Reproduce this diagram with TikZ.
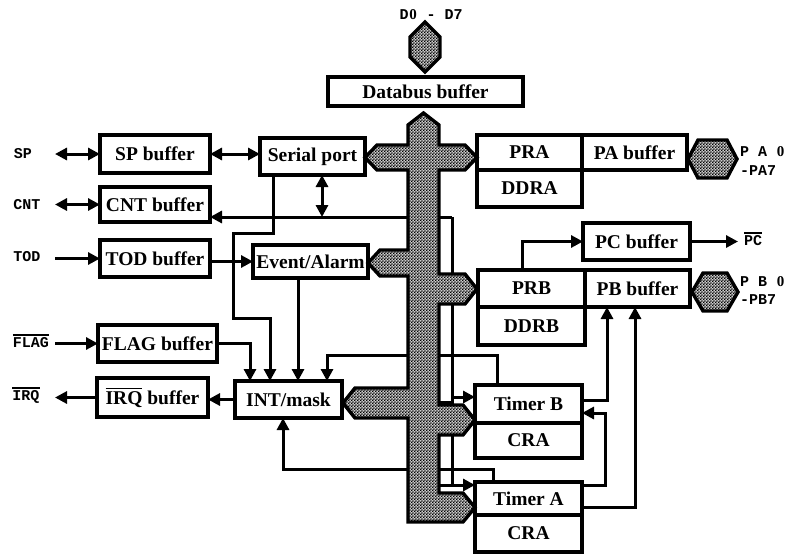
\documentclass[tikz,border=0pt]{standalone}
\usepackage{fontspec}
\setmainfont{Liberation Serif}
\setmonofont{Liberation Mono}
\usetikzlibrary{arrows.meta,patterns,calc}
\pgfdeclarepatternformonly{checker}{\pgfqpoint{0pt}{0pt}}{\pgfqpoint{3.2pt}{3.2pt}}{\pgfqpoint{3.2pt}{3.2pt}}{%
 \pgfpathrectangle{\pgfqpoint{0pt}{0pt}}{\pgfqpoint{1.6pt}{1.6pt}}%
 \pgfpathrectangle{\pgfqpoint{1.6pt}{1.6pt}}{\pgfqpoint{1.6pt}{1.6pt}}%
 \pgfusepath{fill}}
\newcommand\ovl[1]{\leavevmode\vbox{\hrule height 1.8pt\kern 1.8pt\hbox{#1}}}
\newcommand\zr{\makebox[0.6em]{\rmfamily 0}}
\tikzset{
 box/.style={draw, line width=3.4pt, inner sep=0pt, outer sep=0pt, font=\fontsize{19.5}{21}\selectfont\bfseries, fill=white},
 lbl/.style={font=\fontsize{15}{16}\selectfont\ttfamily\bfseries, inner sep=0pt},
 wire/.style={line width=3pt},
 arr/.style={wire, -{Triangle[length=12pt,width=12pt]}},
 darr/.style={wire, {Triangle[length=12pt,width=12pt]}-{Triangle[length=12pt,width=12pt]}},
 bus/.style={draw, line width=3.4pt, preaction={fill=gray!40}, pattern=checker, line join=miter},
}
\begin{document}
\begin{tikzpicture}[x=1pt,y=-1pt]
\useasboundingbox[fill=white] (0,0) rectangle (791,555);

% boxes
\node[box, minimum width=110pt, minimum height=38pt] (spbuf) at (155,154) {SP buffer};
\node[box, minimum width=110pt, minimum height=35pt] (cntbuf) at (155,204.5) {CNT buffer};
\node[box, minimum width=110pt, minimum height=37pt] (todbuf) at (155,258.5) {TOD buffer};
\node[box, minimum width=119pt, minimum height=37pt] (flagbuf) at (157.5,343.5) {FLAG buffer};
\node[box, minimum width=111pt, minimum height=39pt] (irqbuf) at (152.5,397.5) {\ovl{IRQ} buffer};
\node[box, minimum width=105pt, minimum height=37pt] (serial) at (312.5,156.5) {Serial port};
\node[box, minimum width=115pt, minimum height=33pt] (event) at (310.5,261.5) {Event/Alarm};
\node[box, minimum width=107pt, minimum height=37pt] (intm) at (288.5,399.5) {INT/mask};
\node[box, minimum width=195pt, minimum height=29pt] (databus) at (425.5,91.5) {Databus buffer};
\node[box, minimum width=105pt, minimum height=35pt] (pra) at (529.5,152.5) {PRA};
\node[box, minimum width=105pt, minimum height=37pt] (ddra) at (529.5,188.5) {DDRA};
\node[box, minimum width=105pt, minimum height=35pt] (pabuf) at (634.5,152.5) {PA buffer};
\node[box, minimum width=107pt, minimum height=37pt] (pcbuf) at (636.5,241.5) {PC buffer};
\node[box, minimum width=107pt, minimum height=37pt] (prb) at (531.5,288.5) {PRB};
\node[box, minimum width=107pt, minimum height=38pt] (ddrb) at (531.5,326) {DDRB};
\node[box, minimum width=105pt, minimum height=37pt] (pbbuf) at (637.5,288.5) {PB buffer};
\node[box, minimum width=107pt, minimum height=38pt] (timerb) at (528.5,404) {Timer B};
\node[box, minimum width=107pt, minimum height=35pt] (crab) at (528.5,440.5) {CRA};
\node[box, minimum width=107pt, minimum height=33pt] (timera) at (528.5,498.5) {Timer A};
\node[box, minimum width=107pt, minimum height=37pt] (craa) at (528.5,533.5) {CRA};

% connectors
\draw[darr] ($(spbuf.west)+(-45,0)$) -- (spbuf.west);
\draw[darr] (spbuf.east) -- (spbuf.east -| serial.west);
\draw[darr] ($(cntbuf.west)+(-45,0)$) -- (cntbuf.west);
\draw[arr] ($(todbuf.west)+(-45,0)$) -- (todbuf.west);
\draw[arr] (event.west -| todbuf.east) -- (event.west);
\draw[arr] ($(flagbuf.west)+(-43,0)$) -- (flagbuf.west);
\draw[arr] (irqbuf.west) -- ++(-42,0);
\draw[arr] (intm.west) -- (intm.west -| irqbuf.east);
\draw[arr] (flagbuf.east) -| ([xshift=15pt]intm.north west);
\draw[arr] ([xshift=13pt]serial.south west) -- ++(0,58) -| (233,318) -| ([xshift=35pt]intm.north west);
\draw[arr] ([xshift=45pt]event.south west) -- ([xshift=63pt]intm.north west);
\draw[arr] ([xshift=22pt]timerb.north west) -- ++(0,-30) -| ([xshift=92pt]intm.north west);
\draw[arr] ([xshift=18pt]timera.north west) -- ++(0,-13) -| ([xshift=48pt]intm.south west);
\draw[darr] ([xshift=62pt]serial.south west) -- ++(0,42);
\coordinate (cntj) at (452,217);
\coordinate (tbin) at (452,397);
\coordinate (tain) at (452,485);
\draw[arr] (cntj) -- (cntj -| cntbuf.east);
\draw[wire] (cntj) -- (tain);
\draw[wire] (452,402) -- (425,402);
\draw[wire] (tain) -- (425,485);
\draw[arr] (tbin) -- (tbin -| timerb.west);
\draw[arr] (tain) -- (tain -| timera.west);
\draw[arr] ([xshift=-9.5pt]prb.north) |- (pcbuf.west);
\draw[arr] (pcbuf.east) -- ++(48,0);
\draw[arr] ($(timerb.east)+(0,-4)$) -| ([xshift=-30.5pt]pbbuf.south);
\draw[arr] ($(timera.east)+(0,8.5)$) -| ([xshift=-2.5pt]pbbuf.south);
\draw[arr] ($(timera.east)+(0,-13.5)$) -- ++(23,0) |- ($(timerb.east)+(0,9)$);

% bus
\draw[bus] (423.5,113) -- (439,125) -- (439,145) -- (465,145) -- (477,157.5) -- (465,170) -- (439,170)
 -- (439,274) -- (465,274) -- (477,289) -- (465,304) -- (439,304)
 -- (439,405) -- (463,405) -- (475,420) -- (463,435) -- (439,435)
 -- (439,493) -- (463,493) -- (475,507.5) -- (463,522) -- (408,522)
 -- (408,418) -- (355,418) -- (343,403) -- (355,388) -- (408,388)
 -- (408,276) -- (380,276) -- (368,263) -- (380,250) -- (408,250)
 -- (408,170) -- (377,170) -- (365,157.5) -- (377,145) -- (408,145) -- (408,125) -- cycle;
% hexagons
\draw[bus] (425,22) -- (440,37) -- (440,57) -- (425,72) -- (410,57) -- (410,37) -- cycle;
\draw[bus] (688,159) -- (698,140) -- (727,140) -- (737,159) -- (727,178) -- (698,178) -- cycle;
\draw[bus] (692,292) -- (703,273) -- (727,273) -- (738,292) -- (727,311) -- (703,311) -- cycle;

% box borders over the bus tips
\foreach \n in {serial,event,intm,pra,prb,timerb,timera}{\draw[line width=3.4pt] (\n.north west) rectangle (\n.south east);}

% labels
\node[lbl] (sp) at (23,154) {SP};
\node[lbl] (cnt) at (27,205) {CNT};
\node[lbl] (tod) at (27,257) {TOD};
\node[lbl] (flag) at (31,341) {\ovl{FLAG}};
\node[lbl] (irq) at (26,395) {\ovl{IRQ}};
\node[lbl] (pc) at (753,239) {\ovl{PC}};
\node[lbl] (dd) at (431,15) {D\zr{} - D7};
\node[lbl, anchor=west] (pa0) at (740,152) {P A \zr};
\node[lbl, anchor=west] (pa7) at (740,171) {-PA7};
\node[lbl, anchor=west] (pb0) at (740,282) {P B \zr};
\node[lbl, anchor=west] (pb7) at (740,300) {-PB7};
\end{tikzpicture}
\end{document}
